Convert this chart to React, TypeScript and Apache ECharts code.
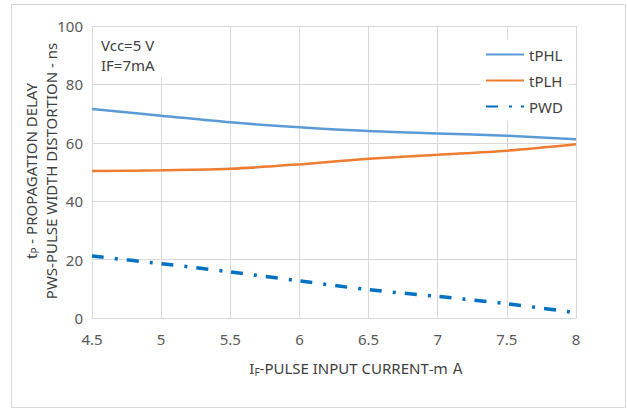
import React, { useEffect, useRef } from "react";
import * as echarts from "echarts";

const xValues = [4.5, 5, 5.5, 6, 6.5, 7, 7.5, 8];
const tPHL = [71.6, 69.3, 67.0, 65.3, 64.0, 63.2, 62.4, 61.2];
const tPLH = [50.3, 50.6, 51.1, 52.6, 54.5, 55.9, 57.3, 59.5];
const PWD = [21.2, 18.6, 15.8, 12.7, 9.7, 7.4, 4.9, 1.8];
const seriesNames = ["tPHL", "tPLH", "PWD"];
const annotationLines = ["Vcc=5 V", "IF=7mA"];

const FONT = "'Noto Sans', sans-serif";
const LABEL = "#595959";
const TEXT = "#404040";
const GRID = "#d9d9d9";

function pairs(ys: number[]) {
  return xValues.map((x, i) => [x, ys[i]]);
}

export default function App() {
  const ref = useRef<HTMLDivElement>(null);
  useEffect(() => {
    if (!ref.current) return;
    const chart = echarts.init(ref.current, null, { renderer: "svg" });
    chart.setOption({
      animation: false,
      backgroundColor: "#ffffff",
      grid: { left: 92, right: 51, top: 26, bottom: 92 },
      xAxis: {
        type: "value",
        min: 4.5,
        max: 8,
        interval: 0.5,
        axisLine: { show: true, lineStyle: { color: GRID, width: 1 } },
        axisTick: { show: false },
        splitLine: { show: true, lineStyle: { color: GRID, width: 1 } },
        axisLabel: { color: LABEL, fontSize: 15, fontFamily: FONT, margin: 13 },
      },
      yAxis: {
        type: "value",
        min: 0,
        max: 100,
        interval: 20,
        axisLine: { show: false },
        axisTick: { show: false },
        splitLine: { show: true, lineStyle: { color: GRID, width: 1 } },
        axisLabel: { color: LABEL, fontSize: 15, fontFamily: FONT, margin: 9 },
      },
      legend: {
        orient: "vertical",
        left: 481,
        top: 40,
        padding: [7, 6, 7, 4],
        itemGap: 11,
        itemWidth: 38,
        itemHeight: 14,
        backgroundColor: "#ffffff",
        data: seriesNames,
        itemStyle: { opacity: 0 },
        textStyle: { color: TEXT, fontSize: 15, fontFamily: FONT },
      },
      series: [
        {
          name: seriesNames[0],
          type: "line",
          data: pairs(tPHL),
          smooth: 0.3,
          symbol: "none",
          lineStyle: { color: "#5B9BD5", width: 2.5 },
          itemStyle: { color: "#5B9BD5" },
        },
        {
          name: seriesNames[1],
          type: "line",
          data: pairs(tPLH),
          smooth: 0.3,
          symbol: "none",
          lineStyle: { color: "#ED7D31", width: 2.5 },
          itemStyle: { color: "#ED7D31" },
        },
        {
          name: seriesNames[2],
          type: "line",
          data: pairs(PWD),
          smooth: 0.3,
          symbol: "none",
          lineStyle: { color: "#0070C0", width: 3.5, type: [12, 11, 3, 9], cap: "butt" },
          itemStyle: { color: "#0070C0" },
        },
      ],
      graphic: [
        {
          type: "rect",
          silent: true,
          shape: { x: 11.5, y: 4.5, width: 614, height: 403 },
          style: { fill: "none", stroke: GRID, lineWidth: 1 },
          z: -1,
        },
        {
          type: "rect",
          silent: true,
          shape: { x: 93, y: 27, width: 74, height: 51 },
          style: { fill: "#ffffff" },
          z: 3,
        },
        {
          type: "text",
          silent: true,
          x: 101,
          y: 45,
          z: 4,
          style: {
            text: annotationLines[0],
            fill: TEXT,
            fontSize: 15,
            fontFamily: FONT,
            verticalAlign: "middle",
          },
        },
        {
          type: "text",
          silent: true,
          x: 101,
          y: 65,
          z: 4,
          style: {
            text: annotationLines[1],
            fill: TEXT,
            fontSize: 15,
            fontFamily: FONT,
            verticalAlign: "middle",
          },
        },
        {
          type: "text",
          silent: true,
          x: 357,
          y: 368,
          z: 4,
          style: {
            text: "{a|I}{s|F}{a|-PULSE INPUT CURRENT}{c|-ｍ Ａ}",
            align: "center",
            verticalAlign: "middle",
            rich: {
              a: { fontSize: 15, fontFamily: FONT, fill: TEXT, color: TEXT },
              s: { fontSize: 10, fontFamily: FONT, fill: TEXT, color: TEXT, padding: [8, 0, 0, 0] },
              c: { fontSize: 14, fontFamily: "'Noto Sans CJK JP', sans-serif", fill: TEXT, color: TEXT },
            },
          },
        },
        {
          type: "text",
          silent: true,
          x: 41,
          y: 171,
          rotation: Math.PI / 2,
          z: 4,
          style: {
            text: "{a|t}{s|P}{a| - PROPAGATION DELAY}\n{a|PWS-PULSE WIDTH DISTORTION - ns}",
            align: "center",
            verticalAlign: "middle",
            rich: {
              a: { fontSize: 15, fontFamily: FONT, fill: TEXT, color: TEXT, lineHeight: 20, align: "center" },
              s: { fontSize: 10, fontFamily: FONT, fill: TEXT, color: TEXT, lineHeight: 20, padding: [8, 0, 0, 0] },
            },
          },
        },
      ],
    });
    return () => chart.dispose();
  }, []);
  return (
    <div
      ref={ref}
      style={{ position: "fixed", left: 0, top: 0, width: 627, height: 410 }}
    />
  );
}
